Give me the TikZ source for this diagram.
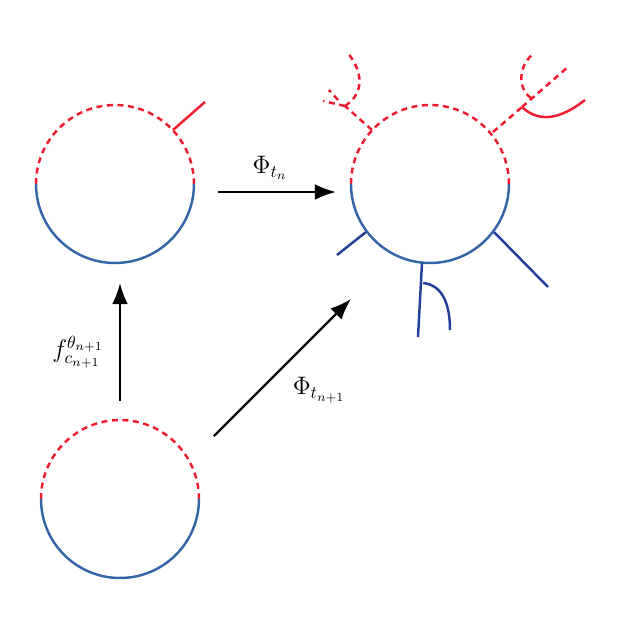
\documentclass[tikz,border=0pt]{standalone}
\usetikzlibrary{arrows.meta}
\definecolor{cred}{HTML}{EE1C2E}
\definecolor{cblue}{HTML}{3565A8}
\definecolor{dblue}{HTML}{22409A}
\tikzset{
  x={(0.02cm,0)}, y={(0,-0.02cm)},
  reddash/.style={cred, line width=1.4pt, dash pattern=on 3.4pt off 2.6pt},
  redline/.style={cred, line width=1.4pt},
  blueline/.style={cblue, line width=1.4pt},
  dblueline/.style={dblue, line width=1.4pt},
  mapto/.style={black, line width=1.3pt, -{Latex[length=12pt,width=9pt]}},
  lbl/.style={inner sep=1pt, font=\Large}
}
\begin{document}
\begin{tikzpicture}
\useasboundingbox (0,0) rectangle (621,627);
% circle A (top-left)
\coordinate (A) at (115,184);
\draw[reddash] (36,184) arc[start angle=180, end angle=0, radius=1.58cm];
\draw[blueline] (36,184) arc[start angle=180, end angle=360, radius=1.58cm];
\draw[redline] (173,130) -- (205,102);
% circle B (top-right)
\coordinate (B) at (430,184);
\draw[reddash] (351,184) arc[start angle=180, end angle=0, radius=1.58cm];
\draw[blueline] (351,184) arc[start angle=180, end angle=360, radius=1.58cm];
% left top decoration
\draw[reddash] (372,130) -- (345,106);
\draw[reddash] (345,106) -- (323,101);
\draw[reddash] (338,100) -- (329,90);
\draw[reddash] (345,106) .. controls (366,92) and (362,70) .. (347,52);
% right top decoration
\draw[reddash] (493,132) -- (522,107);
\draw[reddash] (522,107) -- (568,67);
\draw[reddash] (531,98) .. controls (517,88) and (519,66) .. (532,55);
\draw[redline] (522,107) .. controls (540,124) and (562,118) .. (585,100);
% bottom decorations
\draw[dblueline] (366,232) -- (337,255);
\draw[dblueline] (494,232) -- (548,287);
\draw[dblueline] (422,263) -- (418,337);
\draw[dblueline] (423,283) .. controls (443,285) and (450,305) .. (450,330);
% circle C (bottom-left)
\coordinate (C) at (120,499);
\draw[reddash] (41,499) arc[start angle=180, end angle=0, radius=1.58cm];
\draw[blueline] (41,499) arc[start angle=180, end angle=360, radius=1.58cm];
% arrows
\coordinate (h1) at (218,192); \coordinate (h2) at (336,192);
\coordinate (v1) at (120,401); \coordinate (v2) at (120,283);
\coordinate (d1) at (214,436); \coordinate (d2) at (351,299);
\draw[mapto] (h1) -- (h2);
\draw[mapto] (v1) -- (v2);
\draw[mapto] (d1) -- (d2);
\node[lbl] (lh) at (270,168) {$\Phi_{t_n}$};
\node[lbl] (lv) at (78,352) {$f^{\theta_{n+1}}_{c_{n+1}}$};
\node[lbl] (ld) at (319,390) {$\Phi_{t_{n+1}}$};
\end{tikzpicture}
\end{document}
